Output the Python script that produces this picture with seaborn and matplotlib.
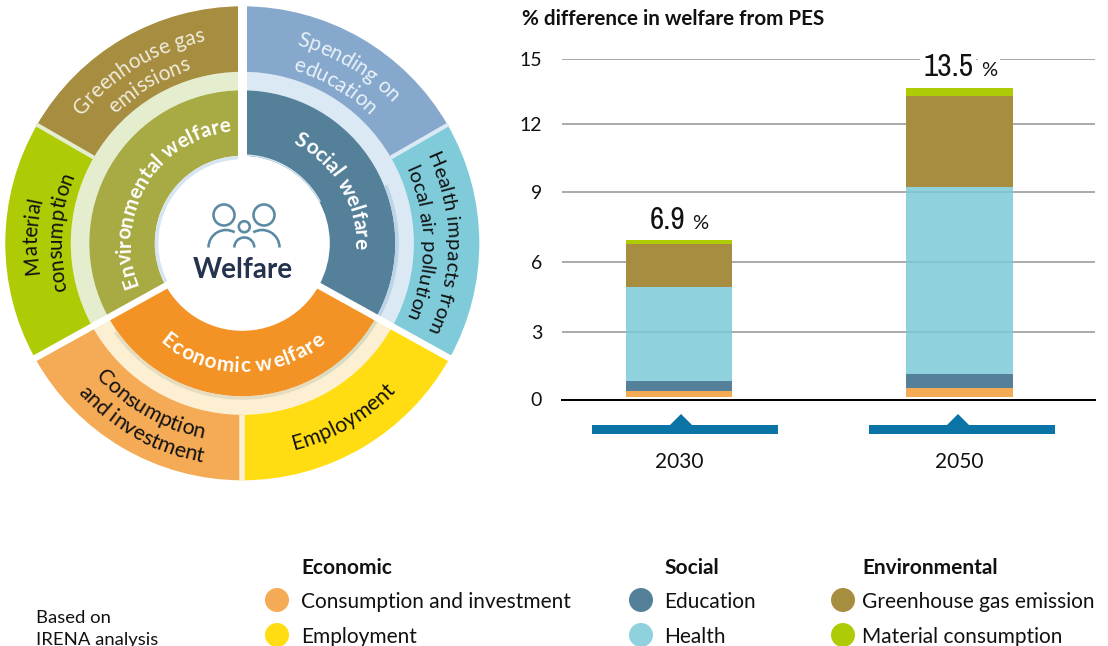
import numpy as np
import pandas as pd
import matplotlib
matplotlib.use("Agg")
import matplotlib.pyplot as plt
import seaborn as sns
from matplotlib.font_manager import FontProperties
from matplotlib.patches import Wedge, Arc, Circle, Polygon
from matplotlib.textpath import text_to_path

# ---- data ----
years = ["2030", "2050"]
totals = [6.9, 13.65]
total_labels = ["6.9", "13.5"]
consumption = [0.26, 0.37]
employment = [0.02, 0.03]
education = [0.44, 0.62]
health = [4.10, 8.05]
ghg = [1.80, 4.10]
material = [0.17, 0.37]
yticks = [0, 3, 6, 9, 12, 15]
y_heights = [0, 67.5, 137.8, 207.8, 275.5, 341]   # drawn height of each tick

sector_names = ["Social welfare", "Economic welfare", "Environmental welfare"]
sector_shares = [119, 122, 119]
outer_names = ["Spending on education", "Health impacts", "Employment",
               "Consumption and investment", "Material consumption", "Greenhouse gas emissions"]
outer_shares = [60, 59, 61, 61, 59, 60]

# ---- colours ----
C_CONS, C_EMP, C_EDU, C_HEALTH, C_GHG, C_MAT = "#f5aa55", "#ffdd12", "#558099", "#8fd2dd", "#a68d3f", "#afcb05"
C_TEXT = "#111111"
sector_colors = ["#558099", "#f39325", "#a8ab44"]
light_colors = ["#dbe9f5", "#fdefd2", "#e4eecf"]
outer_colors = ["#85a8cc", "#80cbda", "#ffdd12", "#f5aa55", "#afcb05", "#a68d3f"]

sns.set_theme(style="white")
plt.rcParams["font.family"] = ["Lato", "DejaVu Sans"]

W, H = 1108, 646
fig = plt.figure(figsize=(W / 100, H / 100), dpi=100, facecolor="white")
PT = 72 / 100  # points per pixel


def px_axes(l, t, r, b, **kw):
    return fig.add_axes([l / W, 1 - b / H, (r - l) / W, (b - t) / H], **kw)


# ---- stacked bars ----
ax = px_axes(562, 58.5, 1095, 399.5)
series = [("Consumption", consumption, C_CONS, 1), ("Employment", employment, C_EMP, 1),
          ("Education", education, C_EDU, 1), ("Health", health, "#7bcad7", 0.85),
          ("GHG", ghg, C_GHG, 1), ("Material", material, C_MAT, 1)]
BAR_BASE = 0.12
cum = np.full(len(years), BAR_BASE, dtype=float)
for name, vals, col, a in series:
    df = pd.DataFrame({"year": years, "value": vals})
    sns.barplot(data=df, x="year", y="value", bottom=cum, color=col, saturation=1,
                width=0.378, alpha=a, linewidth=0, ax=ax, zorder=3)
    cum = cum + np.array(vals)

ext_v = [-15] + yticks + [30]
ext_h = [-341] + y_heights + [682]
ax.set_yscale("function", functions=(lambda v: np.interp(v, ext_v, ext_h),
                                     lambda h: np.interp(h, ext_h, ext_v)))
ax.set_ylim(0, 15)
ax.set_xlim(-0.417, 1.483)
ax.set_yticks(yticks)
ax.set_yticks([], minor=True)
ax.set_yticklabels([str(t) for t in yticks])
ax.set_xlabel("")
ax.set_ylabel("")
ax.set_axisbelow(True)
ax.grid(axis="y", color="#acacac", lw=2 * PT)
ax.grid(axis="x", visible=False)
sns.despine(ax=ax, left=True, top=True, right=True)
ax.spines["bottom"].set_color("black")
ax.spines["bottom"].set_linewidth(2 * PT)
ax.patch.set_alpha(0)
ax.tick_params(axis="y", length=0, pad=20 * PT, labelsize=14, labelcolor=C_TEXT)
ax.tick_params(axis="x", length=0, pad=52 * PT, labelsize=15, labelcolor=C_TEXT)

num_font = ["Archivo Narrow", "Asap Condensed", "Liberation Sans", "DejaVu Sans"]
num_right = [6, 13.5]
pct_left = [13, 21.5]
for i, t in enumerate(totals):
    bb = dict(facecolor="white", edgecolor="none", pad=2.0)
    ax.annotate(total_labels[i], (i, t), xytext=(num_right[i] * PT, 12 * PT), textcoords="offset points",
                ha="right", va="baseline", fontsize=22.5, family=num_font, color=C_TEXT, bbox=bb, zorder=5,
                annotation_clip=False)
    ax.annotate("%", (i, t), xytext=(pct_left[i] * PT, 12 * PT), textcoords="offset points",
                ha="left", va="baseline", fontsize=14.5, color=C_TEXT, bbox=bb, zorder=5,
                annotation_clip=False)

# ---- pixel overlay: title, markers, legend, note ----
ov = px_axes(0, 0, W, H)
ov.set_xlim(0, W)
ov.set_ylim(H, 0)
ov.axis("off")
ov.patch.set_alpha(0)
ov.text(522, 25, "% difference in welfare from PES", fontsize=14.9, fontweight="bold", color=C_TEXT, va="baseline")

for cx, l, r in [(681, 592, 778), (958, 869, 1055)]:
    ov.add_patch(Polygon([(l, 425), (cx - 11, 425), (cx, 414), (cx + 11, 425), (r, 425), (r, 434), (l, 434)],
                         closed=True, fc="#0a74a6", ec="none"))

legend_cols = [
    (277, 301, "Economic", [("Consumption and investment", C_CONS), ("Employment", C_EMP)]),
    (641, 664, "Social", [("Education", C_EDU), ("Health", C_HEALTH)]),
    (843, 862, "Environmental", [("Greenhouse gas emission", C_GHG), ("Material consumption", C_MAT)]),
]
for mx, tx, head, items in legend_cols:
    ov.text(tx, 568, head, fontsize=15, fontweight="bold", color=C_TEXT, va="center")
    for (lab, col), y in zip(items, [600, 635]):
        ov.add_patch(Circle((mx, y), 12, fc=col, ec="none", clip_on=False))
        ov.text(tx, y + 2, lab, fontsize=15, color=C_TEXT, va="center")
ov.text(36, 618, "Based on", fontsize=13.3, color=C_TEXT, va="center")
ov.text(36, 640, "IRENA analysis", fontsize=13.3, color=C_TEXT, va="center")

# ---- donut ----
CX, CY = 242.3, 243.3
SIZE = 490
da = px_axes(0, 0, SIZE, SIZE)
da.patch.set_alpha(0)
R_OUT, R_OUTIN, R_MID, R_IN = 237, 171.5, 153, 87.5

da.pie(sector_shares, radius=R_OUTIN, colors=light_colors, startangle=90, counterclock=False,
       wedgeprops=dict(width=R_OUTIN - R_MID, linewidth=0), frame=True)
da.pie(outer_shares, radius=R_OUT, colors=outer_colors, startangle=90, counterclock=False,
       wedgeprops=dict(width=R_OUT - R_OUTIN, linewidth=0), frame=True)
da.pie(sector_shares, radius=R_MID, colors=sector_colors, startangle=90, counterclock=False,
       wedgeprops=dict(width=R_MID - R_IN, linewidth=0), frame=True)
da.set_xlim(-CX, SIZE - CX)
da.set_ylim(-(SIZE - CY), CY)
da.set_aspect("equal")
da.axis("off")

# soft shadows next to the inner ring
da.add_patch(Wedge((0, 0), R_MID + 3.5, -29, 22, width=3.5, fc="#bcd4e6", ec="none"))
da.add_patch(Wedge((0, 0), R_MID + 3.5, -61, -29, width=3.5, fc="#d9dcc4", ec="none"))
da.add_patch(Wedge((0, 0), R_MID + 3.5, 215, 300, width=3.5, fc="#e6dcc0", ec="none"))
da.add_patch(Wedge((0, 0), R_IN, 90, 211, width=3.5, fc="#d5e6f0", ec="none"))
da.add_patch(Wedge((0, 0), R_IN + 1.5, 28, 90, width=1.5, fc="#d5e6f0", ec="none"))


def radial(theta_top, r0, r1, color, w):
    t = np.radians(theta_top)
    da.plot([r0 * np.sin(t), r1 * np.sin(t)], [r0 * np.cos(t), r1 * np.cos(t)],
            color=color, lw=w * PT, solid_capstyle="butt", zorder=4)


radial(0, 80, 241, "white", 9)
radial(119, 80, 241, "white", 6.5)
radial(241, 80, 241, "white", 6.5)
radial(60, R_OUTIN, R_OUT + 1, "#dbe9f5", 4)
radial(300, R_OUTIN, R_OUT + 1, "#e4eecf", 4)
radial(180, R_OUTIN, R_OUT + 1, "#fdefd2", 5.5)


def arc_text(s, center_deg, r, size, color, clockwise=True, weight="normal", track=1.0):
    """Lay a label along a circle, one glyph after another."""
    fp = FontProperties(family="Lato", size=size, weight=weight)
    total = text_to_path.get_text_width_height_descent(s, fp, False)[0] / PT
    for i, ch in enumerate(s):
        before = text_to_path.get_text_width_height_descent(s[:i + 1], fp, False)[0] / PT
        wch = text_to_path.get_text_width_height_descent(ch, fp, False)[0] / PT
        pos = (before - wch / 2 - total / 2) * track
        d = np.degrees(pos / r)
        th = center_deg + d if clockwise else center_deg - d
        tr = np.radians(th)
        rot = -th if clockwise else 180 - th
        if ch != " ":
            da.text(r * np.sin(tr), r * np.cos(tr), ch, fontproperties=fp, color=color,
                    rotation=rot, rotation_mode="anchor", ha="center", va="baseline", zorder=6)


arc_text("Social welfare", 60, 112, 15, "white", True, "bold")
arc_text("Environmental welfare", -59, 112, 14.8, "white", True, "bold")
arc_text("Economic welfare", 180, 129, 15, "white", False, "bold", track=1.1)

LIGHT = "#f0ecdc"
arc_text("Greenhouse gas", -31, 205, 15, LIGHT)
arc_text("emissions", -30.5, 181, 15, LIGHT)
arc_text("Spending on", 31, 205, 15, "#eaf1f8")
arc_text("education", 30.5, 180, 15, "#eaf1f8")
arc_text("Health impacts from", 90, 204, 14.7, C_TEXT)
arc_text("local air pollution", 90, 179, 14.7, C_TEXT)
arc_text("Employment", 150, 213, 15.5, C_TEXT, False)
arc_text("Consumption", 209.5, 199, 15.5, C_TEXT, False)
arc_text("and investment", 209, 223, 15.5, C_TEXT, False)
arc_text("Material", -88, 205, 14.8, C_TEXT)
arc_text("consumption", -86.5, 181, 14.8, C_TEXT)

# centre icon, in overlay pixels
ICON = "#5b8aa3"
lw = 2.6 * PT
ov.set_zorder(5)
for x, y, r in [(224, 215, 10.5), (264, 215, 10.5), (244.3, 226.7, 5.5)]:
    ov.add_patch(Circle((x, y), r, fc="none", ec=ICON, lw=lw))
ov.add_patch(Arc((226, 247.5), 35, 35, theta1=180, theta2=300, ec=ICON, lw=lw))
ov.add_patch(Arc((262, 247.5), 35, 35, theta1=240, theta2=360, ec=ICON, lw=lw))
ov.add_patch(Arc((244.3, 247.5), 20, 20, theta1=180, theta2=360, ec=ICON, lw=lw))
ov.text(243, 270, "Welfare", fontsize=20, fontweight="bold", color="#26334f", ha="center", va="center")

fig.savefig("out.png", dpi=100, facecolor="white")
